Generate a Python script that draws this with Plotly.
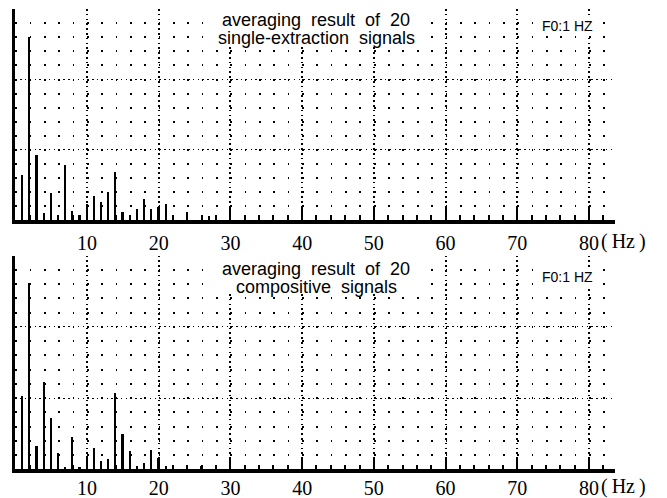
import numpy as np
import plotly.graph_objects as go

# ---- data ----
freq_top = [1, 2, 3, 4, 5, 6, 7, 8, 9, 10, 11, 12, 13, 14, 15, 16, 17, 18, 19, 20, 21, 24, 27, 28]
amp_top = [0.64, 2.60, 0.925, 0.10, 0.39, 0.07, 0.78, 0.13, 0.07, 0.23, 0.34, 0.25, 0.40, 0.69,
           0.11, 0.04, 0.15, 0.30, 0.15, 0.18, 0.23, 0.12, 0.05, 0.05]

freq_bot = [1, 2, 3, 4, 5, 6, 7, 8, 9, 10, 11, 12, 13, 14, 15, 16, 17, 18, 19, 20, 21, 22, 24, 26, 28]
amp_bot = [1.04, 2.63, 0.33, 1.23, 0.73, 0.24, 0.04, 0.46, 0.04, 0.19, 0.30, 0.12, 0.15, 1.08,
           0.51, 0.26, 0.05, 0.10, 0.28, 0.17, 0.06, 0.05, 0.05, 0.05, 0.05]

tick_vals = [10, 20, 30, 40, 50, 60, 70, 80]
tick_text = ["10", "20", "30", "40", "50", "60", "70", "80"]
minor_ticks = list(range(2, 84, 2))

NB = "\u00a0"
title_top = [f"averaging{NB} result{NB} of{NB} 20", f"single-extraction{NB} signals"]
title_bot = [f"averaging{NB} result{NB} of{NB} 20", f"compositive{NB} signals"]
f0_label = "F0:1 HZ"
unit_label = "(\u2009Hz\u2009)"

# The page body adds an 8px offset; lay the figure out in window pixels.
OFF = 8
WIN_W, WIN_H = 667, 498
W, H = WIN_W - OFF, WIN_H - OFF
SERIF = "Liberation Serif, Times New Roman, serif"
SANS = "Liberation Sans, Arial, sans-serif"
NARROW = "Liberation Sans Narrow, Arial Narrow, Liberation Sans, Arial, sans-serif"


def px_x(px):
    return (px - OFF) / W


def px_y(py):
    return (H - (py - OFF)) / H


fig = go.Figure()
fig.add_trace(go.Bar(x=freq_top, y=amp_top, width=0.3, marker=dict(color="black", line=dict(width=0)),
                     xaxis="x", yaxis="y", showlegend=False))
fig.add_trace(go.Bar(x=freq_bot, y=amp_bot, width=0.3, marker=dict(color="black", line=dict(width=0)),
                     xaxis="x2", yaxis="y2", showlegend=False))

xdom = [px_x(15.3), px_x(614.8)]
ydom_top = [px_y(220), px_y(9)]
ydom_bot = [px_y(469.3), px_y(255.5)]


def xaxis_cfg(anchor, standoff):
    return dict(
        domain=xdom, range=[0, 83.6], anchor=anchor,
        tickmode="array", tickvals=tick_vals, ticktext=tick_text,
        ticks="inside", ticklen=13, tickwidth=2, tickcolor="black",
        ticklabelstandoff=standoff,
        tickfont=dict(family=SERIF, size=20, color="black"),
        showline=True, linewidth=3.5, linecolor="black",
        showgrid=True, gridcolor="black", gridwidth=1.6, griddash="1.6px,3.2px",
        zeroline=False,
        minor=dict(tickvals=minor_ticks, ticks="inside", ticklen=5, tickwidth=1.5,
                   tickcolor="black", showgrid=False),
    )


def yaxis_cfg(anchor, dom):
    return dict(
        domain=dom, range=[0, 3.004], anchor=anchor,
        tickmode="array", tickvals=[1, 2, 3], showticklabels=False, ticks="",
        showline=True, linewidth=2.5, linecolor="black",
        showgrid=True, gridcolor="black", gridwidth=1.3, griddash="1.4px,3.4px",
        zeroline=False,
        minor=dict(dtick=0.2, tick0=0, showgrid=True, gridcolor="black", gridwidth=1.7,
                   griddash="1.7px,12.64px", ticks=""),
    )


fig.update_layout(
    width=W, height=H,
    margin=dict(l=0, r=0, t=0, b=0),
    paper_bgcolor="white", plot_bgcolor="white",
    bargap=0,
    xaxis=xaxis_cfg("y", 2),
    yaxis=yaxis_cfg("x", ydom_top),
    xaxis2=xaxis_cfg("y2", -2),
    yaxis2=yaxis_cfg("x2", ydom_bot),
)

# white panels behind the two-line titles (they interrupt the dotted grid)
shapes = []
for (y0, y1) in [(4, 46), (250, 292)]:
    shapes.append(dict(type="rect", xref="paper", yref="paper",
                       x0=px_x(213), x1=px_x(420), y0=px_y(y1), y1=px_y(y0),
                       fillcolor="white", line=dict(width=0), layer="above"))
fig.update_layout(shapes=shapes)

annos = []
for (line, yc) in zip(title_top, [20, 38]):
    annos.append(dict(text=line, x=px_x(316), y=px_y(yc), xref="paper", yref="paper",
                      xanchor="center", yanchor="middle", showarrow=False,
                      font=dict(family=SANS, size=18, color="black")))
for (line, yc) in zip(title_bot, [269, 287]):
    annos.append(dict(text=line, x=px_x(316), y=px_y(yc), xref="paper", yref="paper",
                      xanchor="center", yanchor="middle", showarrow=False,
                      font=dict(family=SANS, size=18, color="black")))
for yc in [26, 277]:
    annos.append(dict(text=f0_label, x=px_x(567), y=px_y(yc), xref="paper", yref="paper",
                      xanchor="center", yanchor="middle", showarrow=False,
                      font=dict(family=NARROW, size=14, color="black"), bgcolor="white", borderpad=1))
for yc in [241, 486]:
    annos.append(dict(text=unit_label, x=px_x(599), y=px_y(yc), xref="paper", yref="paper",
                      xanchor="left", yanchor="middle", showarrow=False,
                      font=dict(family=SERIF, size=20, color="black")))
fig.update_layout(annotations=annos)

fig.write_html("out.html")
